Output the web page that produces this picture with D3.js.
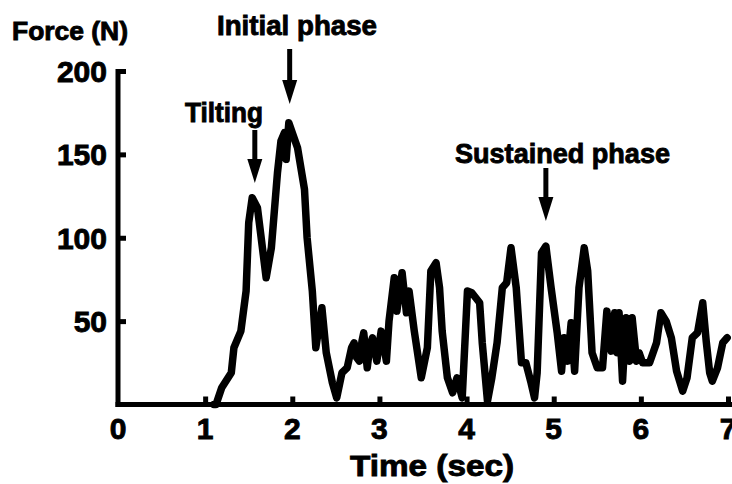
<!DOCTYPE html>
<html>
<head>
<meta charset="utf-8">
<script src="https://cdn.jsdelivr.net/npm/d3@7"></script>
<style>
	body { margin: 0; background: #fff; }
	text { font-family: "Liberation Sans", Arial, sans-serif; font-weight: bold; fill: #000; stroke: #000; stroke-width: 0.9px; }
</style>
</head>
<body>
<svg id="chart" width="732" height="484"></svg>
<script>
// force trace: time (sec) and force (N)
const timeSec = [1.10, 1.125, 1.19, 1.30, 1.33, 1.41, 1.47, 1.50, 1.54, 1.60, 1.70, 1.76, 1.83, 1.87, 1.91, 1.93, 1.96,
	2.02, 2.06, 2.14, 2.17, 2.23, 2.27, 2.34, 2.39, 2.46, 2.51, 2.57, 2.63, 2.68, 2.71, 2.74, 2.77, 2.80, 2.82, 2.86, 2.89, 2.92, 2.97,
	3.02, 3.08, 3.11, 3.17, 3.20, 3.26, 3.31, 3.34, 3.40, 3.48, 3.55, 3.59, 3.65, 3.69, 3.72, 3.78, 3.84, 3.89, 3.95,
	4.01, 4.06, 4.15, 4.18, 4.24, 4.29, 4.35, 4.41, 4.46, 4.51, 4.57, 4.63, 4.68, 4.74, 4.78, 4.81, 4.86, 4.91, 4.97,
	5.04, 5.09, 5.12, 5.16, 5.20, 5.24, 5.29, 5.35, 5.39, 5.44, 5.50, 5.56, 5.61, 5.66, 5.70, 5.73, 5.75, 5.79, 5.83,
	5.87, 5.90, 5.95, 5.98, 6.02, 6.10, 6.18, 6.23, 6.29, 6.35, 6.41, 6.48, 6.53, 6.59, 6.65, 6.71, 6.75, 6.79, 6.82,
	6.88, 6.94, 6.99]
const forceN = [0, 0, 10, 19, 34, 44, 68, 109, 124, 118, 76, 94, 139, 158, 163, 147, 169,
	160, 154, 129, 100, 68, 34, 58, 31, 13, 4, 19, 22, 34, 37, 28, 26, 38, 43, 22, 35, 40, 26,
	44, 26, 50, 76, 56, 79, 55, 68, 44, 16, 34, 80, 85, 70, 44, 16, 7, 16, 4,
	68, 67, 61, 37, 2, 16, 37, 70, 73, 94, 70, 25, 25, 13, 4, 19, 91, 95, 70,
	43, 20, 40, 26, 49, 20, 70, 94, 80, 31, 22, 22, 56, 32, 55, 31, 55, 14, 52,
	26, 52, 26, 31, 25, 25, 37, 55, 50, 40, 20, 8, 16, 40, 43, 61, 38, 19, 14,
	22, 37, 40]

const xTicks = [0, 1, 2, 3, 4, 5, 6, 7]
const yTicks = [50, 100, 150, 200]
const notes = ["Tilting", "Initial phase", "Sustained phase"]
const noteTimes = [1.57, 1.97, 4.91]

var svg = d3.select('#chart')

var x = d3.scaleLinear().domain([0, 7]).range([118, 728])
var y = d3.scaleLinear().domain([0, 200]).range([404.5, 71])

var data = timeSec.map((t, i) => ({t: t, f: forceN[i]}))

// the trace
svg.append('path')
	.datum(data)
	.attr('fill', 'none')
	.attr('stroke', '#000')
	.attr('stroke-width', 7.5)
	.attr('stroke-linejoin', 'round')
	.attr('stroke-linecap', 'round')
	.attr('d', d3.line().x(d => x(d.t)).y(d => y(d.f)))

// axes drawn with d3 axis, ticks pointing inward
var xAxis = svg.append('g')
	.attr('transform', 'translate(0,' + y(0) + ')')
	.call(d3.axisTop(x).tickValues(xTicks.slice(1)).tickSize(8).tickSizeOuter(0).tickFormat(''))
var yAxis = svg.append('g')
	.attr('transform', 'translate(' + x(0) + ',0)')
	.call(d3.axisRight(y).tickValues(yTicks).tickSize(8).tickSizeOuter(0).tickFormat(''))

svg.selectAll('.domain').remove()
svg.selectAll('.tick line').attr('stroke', '#000').attr('stroke-width', 5)

svg.append('line')
	.attr('x1', x(0) - 2.5).attr('x2', 732)
	.attr('y1', y(0)).attr('y2', y(0))
	.attr('stroke', '#000').attr('stroke-width', 5)
svg.append('line')
	.attr('x1', x(0)).attr('x2', x(0))
	.attr('y1', y(200) - 2).attr('y2', y(0) + 2.5)
	.attr('stroke', '#000').attr('stroke-width', 5)

// tick labels
svg.selectAll('.xlab')
	.data(xTicks)
	.join('text')
	.attr('class', 'xlab')
	.attr('x', d => x(d))
	.attr('y', 439)
	.attr('text-anchor', 'middle')
	.style('font-size', '30px')
	.text(d => d)

svg.selectAll('.ylab')
	.data(yTicks)
	.join('text')
	.attr('class', 'ylab')
	.attr('x', 107)
	.attr('y', d => y(d) + 11)
	.attr('text-anchor', 'end')
	.style('font-size', '30px')
	.text(d => d)

// axis titles
svg.append('text')
	.attr('x', 12).attr('y', 40)
	.attr('textLength', 116).attr('lengthAdjust', 'spacingAndGlyphs')
	.style('font-size', '26px')
	.text('Force (N)')

svg.append('text')
	.attr('x', 350).attr('y', 476)
	.attr('textLength', 164).attr('lengthAdjust', 'spacingAndGlyphs')
	.style('font-size', '30px')
	.text('Time (sec)')

// annotations with arrows
var noteLayout = [
	{x0: 185, base: 122, len: 78, size: 27, top: 130, tip: 183},
	{x0: 217, base: 35, len: 160, size: 28, top: 49, tip: 104},
	{x0: 455, base: 163, len: 215, size: 28, top: 168, tip: 221}
]

notes.forEach(function(label, i) {
	var L = noteLayout[i]
	var ax = x(noteTimes[i])
	svg.append('text')
		.attr('x', L.x0).attr('y', L.base)
		.attr('textLength', L.len).attr('lengthAdjust', 'spacingAndGlyphs')
		.style('font-size', L.size + 'px')
		.text(label)
	svg.append('line')
		.attr('x1', ax).attr('x2', ax)
		.attr('y1', L.top).attr('y2', L.tip - 20)
		.attr('stroke', '#000').attr('stroke-width', 5)
	svg.append('path')
		.attr('d', 'M' + (ax - 7.5) + ',' + (L.tip - 24) + 'L' + (ax + 7.5) + ',' + (L.tip - 24) + 'L' + ax + ',' + L.tip + 'Z')
		.attr('fill', '#000')
})
</script>
</body>
</html>
